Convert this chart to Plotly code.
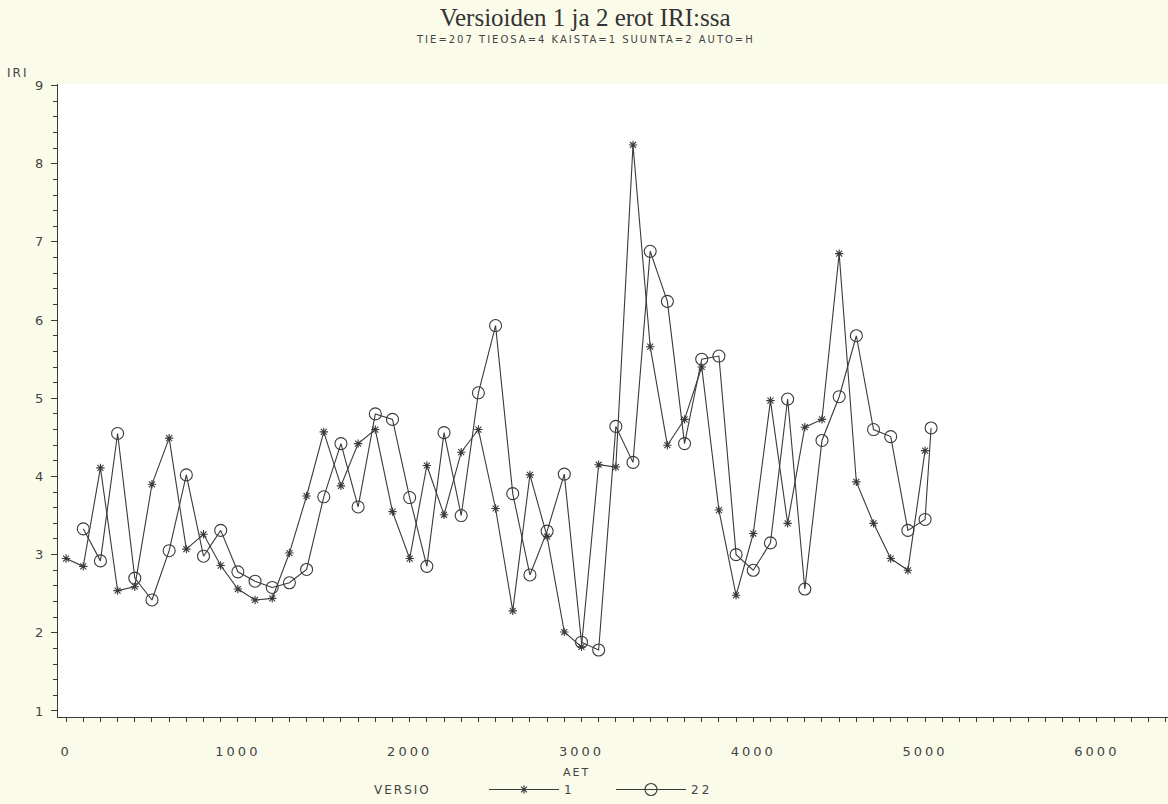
import plotly.graph_objects as go

# ---- data ----
aet_v1 = [0, 100, 200, 300, 400, 500, 600, 700, 800, 900,
          1000, 1100, 1200, 1300, 1400, 1500, 1600, 1700, 1800, 1900,
          2000, 2100, 2200, 2300, 2400, 2500, 2600, 2700, 2800, 2900,
          3000, 3100, 3200, 3300, 3400, 3500, 3600, 3700, 3800, 3900,
          4000, 4100, 4200, 4300, 4400, 4500, 4600, 4700, 4800, 4900, 5000]
iri_v1 = [2.95, 2.85, 4.11, 2.54, 2.59, 3.90, 4.49, 3.07, 3.26, 2.86,
          2.56, 2.42, 2.44, 3.02, 3.75, 4.57, 3.88, 4.42, 4.60, 3.55,
          2.95, 4.14, 3.51, 4.31, 4.60, 3.59, 2.28, 4.02, 3.23, 2.01,
          1.82, 4.15, 4.12, 8.24, 5.66, 4.40, 4.73, 5.40, 3.57, 2.48,
          3.27, 4.97, 3.40, 4.63, 4.73, 6.85, 3.93, 3.40, 2.95, 2.80, 4.33]

aet_v22 = [100, 200, 300, 400, 500, 600, 700, 800, 900,
           1000, 1100, 1200, 1300, 1400, 1500, 1600, 1700, 1800, 1900,
           2000, 2100, 2200, 2300, 2400, 2500, 2600, 2700, 2800, 2900,
           3000, 3100, 3200, 3300, 3400, 3500, 3600, 3700, 3800, 3900,
           4000, 4100, 4200, 4300, 4400, 4500, 4600, 4700, 4800, 4900, 5000, 5035]
iri_v22 = [3.33, 2.92, 4.55, 2.70, 2.42, 3.05, 4.02, 2.98, 3.31,
           2.78, 2.66, 2.58, 2.64, 2.81, 3.74, 4.42, 3.61, 4.80, 4.73,
           3.73, 2.85, 4.56, 3.50, 5.07, 5.93, 3.78, 2.74, 3.30, 4.03,
           1.88, 1.78, 4.64, 4.18, 6.88, 6.24, 4.42, 5.50, 5.54, 3.00,
           2.80, 3.15, 4.99, 2.56, 4.46, 5.02, 5.80, 4.60, 4.51, 3.31, 3.45, 4.62]

series_names = ["1", "22"]
x_ticks = [0, 1000, 2000, 3000, 4000, 5000, 6000]
y_ticks = [1, 2, 3, 4, 5, 6, 7, 8, 9]

INK = "#3a3a3a"
SANS = "DejaVu Sans"

fig = go.Figure()
fig.add_trace(go.Scatter(
    x=aet_v1, y=iri_v1, name=series_names[0], mode="lines+markers",
    line=dict(color=INK, width=1.1),
    marker=dict(symbol="asterisk-open", size=7, line=dict(color=INK, width=1.1)),
))
fig.add_trace(go.Scatter(
    x=aet_v22, y=iri_v22, name=series_names[1], mode="lines+markers",
    line=dict(color=INK, width=1.1),
    marker=dict(symbol="circle-open", size=12, color=INK, line=dict(color=INK, width=1.1)),
))

fig.update_layout(
    width=1168, height=804,
    margin=dict(l=58, r=0, t=84, b=87),
    paper_bgcolor="#fbfbea",
    plot_bgcolor="#ffffff",
    showlegend=True,
    title=dict(text="Versioiden 1 ja 2 erot IRI:ssa",
               font=dict(family="Liberation Serif", size=25, color="#333333"),
               x=0.501, xref="container", xanchor="center",
               y=1 - 17 / 804, yref="container", yanchor="middle"),
    legend=dict(orientation="h", x=(484 - 58) / 1110, xanchor="left",
                y=-(804 - 717) / 633, yanchor="bottom",
                font=dict(family=SANS, size=12, color="#444444"),
                itemwidth=70, entrywidth=42, bgcolor="rgba(0,0,0,0)", tracegroupgap=0),
    xaxis=dict(range=[-47, 6414], tickvals=x_ticks, ticks="outside", ticklen=4,
               tickwidth=1, tickcolor=INK,
               minor=dict(dtick=100, tick0=0, ticks="outside", ticklen=4, tickcolor=INK),
               showline=True, linecolor=INK, linewidth=1.2, showgrid=False, zeroline=False,
               tickfont=dict(family=SANS, size=13, color="#444444"), ticklabelstandoff=18),
    yaxis=dict(range=[0.923, 9.02], tickvals=y_ticks, ticks="outside", ticklen=6,
               tickwidth=1, tickcolor=INK,
               minor=dict(dtick=0.2, tick0=1, ticks="outside", ticklen=4, tickcolor=INK),
               showline=True, linecolor=INK, linewidth=1.2, showgrid=False, zeroline=False,
               tickfont=dict(family=SANS, size=13, color="#444444"), ticklabelstandoff=2),
    annotations=[
        dict(text="TIE=207 TIEOSA=4 KAISTA=1 SUUNTA=2 AUTO=H", xref="paper", yref="paper",
             x=(585 - 58) / 1110, y=1 + (84 - 39) / 633, xanchor="center", yanchor="middle",
             showarrow=False, font=dict(family=SANS, size=10, color="#444444")),
        dict(text="IRI", xref="paper", yref="paper",
             x=(8 - 58) / 1110, y=1 + (84 - 73) / 633, xanchor="left", yanchor="middle",
             showarrow=False, font=dict(family=SANS, size=12, color="#444444")),
        dict(text="AET", xref="paper", yref="paper",
             x=(576 - 58) / 1110, y=-(772 - 717) / 633, xanchor="center", yanchor="middle",
             showarrow=False, font=dict(family=SANS, size=11, color="#444444")),
        dict(text="VERSIO", xref="paper", yref="paper",
             x=(378 - 58) / 1110, y=-(790 - 717) / 633, xanchor="left", yanchor="middle",
             showarrow=False, font=dict(family=SANS, size=12, color="#444444")),
    ],
)

post = """
var s=document.createElement('style');
s.innerHTML='html,body{margin:0;padding:0;overflow:hidden}'+
 '.xtick text,.ytick text{letter-spacing:3px}'+
 '.annotation text{letter-spacing:2px}'+
 '.legend text{letter-spacing:3px}';
document.head.appendChild(s);
"""

fig.write_html("out.html", post_script=post, config={"displayModeBar": False})
